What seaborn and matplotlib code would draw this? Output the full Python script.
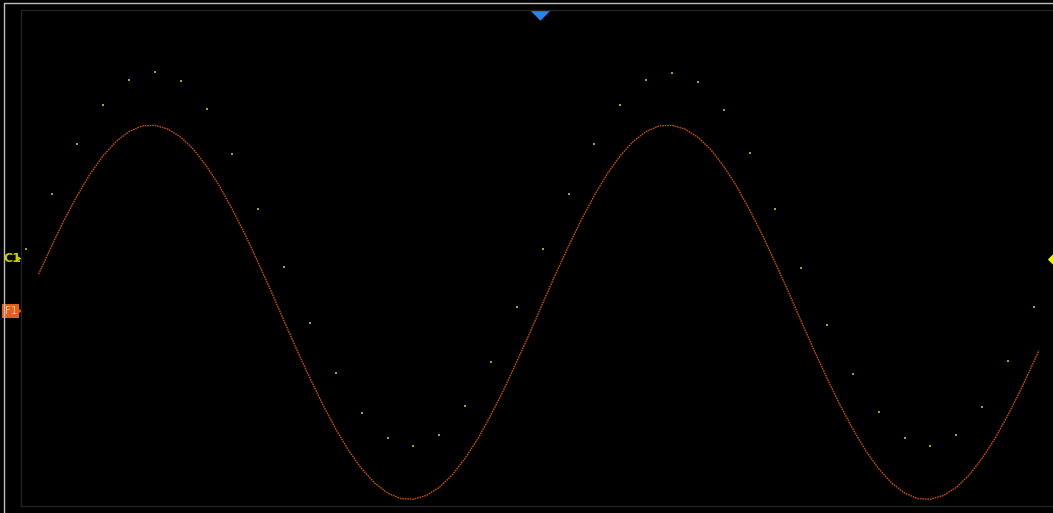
import numpy as np
import pandas as pd
import matplotlib
matplotlib.use("Agg")
import matplotlib.pyplot as plt
import matplotlib.transforms as mtransforms
from matplotlib.lines import Line2D
import seaborn as sns

# C1 raw samples, in divisions (4 samples per horizontal div)
c1_volts = [0.14, 1.04, 1.84, 2.47, 2.87, 3.00, 2.86, 2.41, 1.67, 0.79,
            -0.15, -1.05, -1.86, -2.50, -2.90, -3.03, -2.85, -2.38, -1.68, -0.79,
            0.14, 1.04, 1.84, 2.47, 2.87, 2.99, 2.84, 2.39, 1.69, 0.79,
            -0.16, -1.08, -1.87, -2.48, -2.90, -3.03, -2.86, -2.40, -1.66, -0.79]
c1_sample = np.arange(len(c1_volts))

# F1 trace read every half sample (drawn with its own offset)
f1_sample = list(np.arange(0.5, 39.01, 0.5)) + [39.2]
f1_volts = [0.60, 1.05, 1.48, 1.87, 2.22, 2.51, 2.74, 2.90, 2.99, 3.00,
            2.94, 2.81, 2.61, 2.34, 2.02, 1.64, 1.23, 0.78, 0.32, -0.16,
            -0.63, -1.08, -1.51, -1.90, -2.25, -2.54, -2.77, -2.93, -3.02, -3.03,
            -2.97, -2.84, -2.64, -2.37, -2.05, -1.67, -1.26, -0.81, -0.35, 0.13,
            0.60, 1.05, 1.48, 1.87, 2.22, 2.51, 2.74, 2.90, 2.99, 3.00,
            2.94, 2.81, 2.61, 2.34, 2.02, 1.64, 1.23, 0.78, 0.32, -0.16,
            -0.63, -1.08, -1.51, -1.90, -2.25, -2.54, -2.77, -2.93, -3.02, -3.03,
            -2.97, -2.84, -2.64, -2.37, -2.05, -1.67, -1.26, -0.81,
            -0.63]
f1_offset = -0.86
trig_sample = 19.88
trig_level = -0.02

c1 = pd.DataFrame({"sample": c1_sample, "volts": c1_volts})
f1 = pd.DataFrame({"sample": f1_sample, "volts": np.array(f1_volts) + f1_offset})

sns.set_style("dark", {"axes.facecolor": "black", "figure.facecolor": "black",
                       "axes.edgecolor": "#222222"})

W, H = 1053, 513
fig = plt.figure(figsize=(W / 100, H / 100), dpi=100)
ax = fig.add_axes([21 / W, (H - 506) / H, (W - 21) / W, (506 - 10) / H])

# F1 math trace (dotted look) and C1 sample dots
sns.lineplot(data=f1, x="sample", y="volts", sort=False, color="#c24e10",
             linewidth=1.0, linestyle=(0, (1.2, 0.6)), ax=ax)
sns.scatterplot(data=c1, x="sample", y="volts", marker="s", s=2.5, linewidth=0,
                color="#9aa52a", ax=ax)

ax.set_xlim(-0.18, 39.74)
ax.set_ylim(-4, 4)
ax.set_xticks([])
ax.set_yticks([])
ax.set_xlabel("")
ax.set_ylabel("")
ax.grid(False)
ax.spines["right"].set_visible(False)
for s in ["left", "bottom", "top"]:
    ax.spines[s].set_color("#222222")
    ax.spines[s].set_linewidth(1.0)

# trigger position marker (top) and trigger level marker (right)
ax.plot([trig_sample], [0.99], marker=[(-1, 0.5), (1, 0.5), (0, -0.5), (-1, 0.5)],
        markersize=15, color="#2f80e8", markeredgewidth=0,
        transform=ax.get_xaxis_transform(), clip_on=False)
ax.plot([1.0021], [trig_level], marker=[(-1, 0), (0, 1), (1, 0), (0, -1)],
        markersize=11, color="#f2f200", markeredgewidth=0,
        transform=ax.get_yaxis_transform(), clip_on=False)

# channel offset labels at the left
blend = mtransforms.blended_transform_factory(fig.transFigure, ax.transData)
ax.text(3 / W, 0.0, "C1", transform=blend, color="#c8d000", fontsize=9,
        fontweight="bold", ha="left", va="center", clip_on=False)
ax.plot([19 / W], [0.0], marker=">", markersize=3.5, color="#c8d000",
        markeredgewidth=0, transform=blend, clip_on=False)
ax.text(4.5 / W, f1_offset, "F1", transform=blend, color="#ffb98a", fontsize=7.5,
        ha="left", va="center", clip_on=False,
        bbox=dict(boxstyle="square,pad=0.2", fc="#e2601e", ec="none"))
ax.plot([19.5 / W], [f1_offset], marker=">", markersize=4, color="#e2601e",
        markeredgewidth=0, transform=blend, clip_on=False)

# window border
fig.add_artist(Line2D([3.5 / W, 3.5 / W], [0, 1 - 2.5 / H], transform=fig.transFigure,
                      color="#bdbdbd", linewidth=1.0))
fig.add_artist(Line2D([3.5 / W, 1], [1 - 2.5 / H, 1 - 2.5 / H], transform=fig.transFigure,
                      color="#bdbdbd", linewidth=1.0))

fig.savefig("out.png", dpi=100, facecolor="black")
